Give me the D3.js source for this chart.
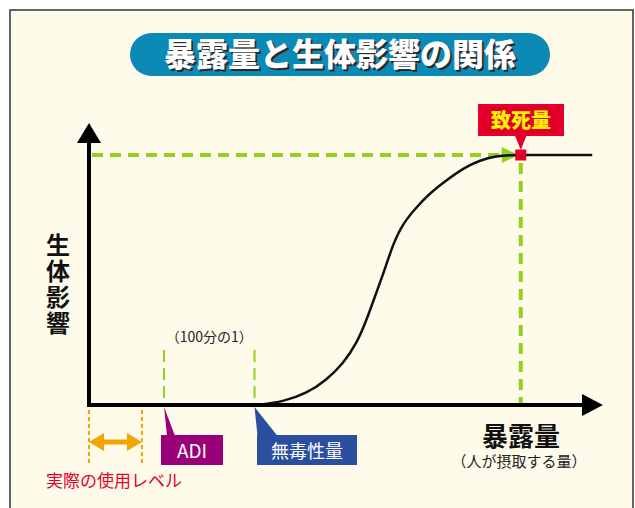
<!DOCTYPE html>
<html>
<head>
<meta charset="utf-8">
<script src="https://cdn.jsdelivr.net/npm/d3@7"></script>
<style>
  body { margin: 0; background: #fff; }
  svg { display: block; font-family: "Noto Sans CJK JP", "Noto Sans", sans-serif; }
</style>
</head>
<body>
<svg></svg>
<script>
// dose-response curve (arbitrary units)
var curveDose   = [32.6, 37.8, 42.4, 46.2, 49.5, 52.1, 54.0, 55.6, 57.3, 59.2, 61.1, 63.8, 66.3, 69.6, 72.8, 76.1, 79.3, 81.9, 84.0, 97.9];
var curveEffect = [0, 1.3, 4.7, 10, 16.7, 24.7, 34, 43.3, 52.7, 64.7, 72.7, 79.3, 84.7, 90, 94.7, 98, 99.6, 100, 100, 100];

// reference doses
var adiDose = 14.6;
var noelDose = 32.2;
var lethalDose = 84.0;
var usageRange = [0, 10.3];

var titleText = "暴露量と生体影響の関係";
var yLabel = ["生", "体", "影", "響"];
var xLabel = "暴露量";
var xSubLabel = "（人が摂取する量）";
var ratioText = "（100分の1）";
var usageText = "実際の使用レベル";
var adiText = "ADI";
var noelText = "無毒性量";
var lethalText = "致死量";

var draw = function() {
	var width = 635, height = 508;

	var svg = d3.select("svg")
		.attr("width", width)
		.attr("height", height);

	// frame
	svg.append("rect")
		.attr("x", 10).attr("y", 10)
		.attr("width", 623).attr("height", 520)
		.attr("fill", "#fefbea")
		.attr("stroke", "#333")
		.attr("stroke-width", 1.5);

	// title pill
	svg.append("rect")
		.attr("x", 130).attr("y", 33)
		.attr("width", 420).attr("height", 43)
		.attr("rx", 21.5)
		.attr("fill", "#0a8ab5");
	svg.append("text")
		.attr("x", 342).attr("y", 68)
		.attr("text-anchor", "middle")
		.attr("font-size", 32).attr("font-weight", 900)
		.attr("fill", "#2b2b2b")
		.text(titleText);
	svg.append("text")
		.attr("x", 340).attr("y", 66)
		.attr("text-anchor", "middle")
		.attr("font-size", 32).attr("font-weight", 900)
		.attr("fill", "#fff")
		.text(titleText);

	// scales
	var x = d3.scaleLinear().domain([0, 100]).range([89, 603]);
	var y = d3.scaleLinear().domain([0, 100]).range([405, 155]);

	// usage level (orange)
	usageRange.forEach(function(d) {
		svg.append("line")
			.attr("x1", x(d)).attr("x2", x(d))
			.attr("y1", 410).attr("y2", 464)
			.attr("stroke", "#f0a500")
			.attr("stroke-width", 2)
			.attr("stroke-dasharray", "4,3");
	});
	var ux0 = x(usageRange[0]), ux1 = x(usageRange[1]), uy = 442;
	svg.append("line")
		.attr("x1", ux0 + 10).attr("x2", ux1 - 10)
		.attr("y1", uy).attr("y2", uy)
		.attr("stroke", "#f0a500").attr("stroke-width", 5);
	svg.append("path")
		.attr("d", "M" + ux0 + "," + uy + "L" + (ux0 + 15) + "," + (uy - 9) + "L" + (ux0 + 15) + "," + (uy + 9) + "Z" +
			"M" + ux1 + "," + uy + "L" + (ux1 - 15) + "," + (uy - 9) + "L" + (ux1 - 15) + "," + (uy + 9) + "Z")
		.attr("fill", "#f0a500");
	svg.append("text")
		.attr("x", 114).attr("y", 487)
		.attr("text-anchor", "middle")
		.attr("font-size", 17)
		.attr("fill", "#e2002b")
		.text(usageText);

	// thin green dashed markers (ADI, NOEL)
	[adiDose, noelDose].forEach(function(d) {
		svg.append("line")
			.attr("x1", x(d)).attr("x2", x(d))
			.attr("y1", 350).attr("y2", y(0))
			.attr("stroke", "#8fd11c")
			.attr("stroke-width", 2)
			.attr("stroke-dasharray", "12,6");
	});
	svg.append("text")
		.attr("x", (x(adiDose) + x(noelDose)) / 2).attr("y", 342)
		.attr("text-anchor", "middle")
		.attr("font-size", 14)
		.attr("fill", "#222")
		.text(ratioText);

	// lethal dose guides (thick green dashes)
	svg.append("line")
		.attr("x1", x(0) + 3).attr("x2", x(lethalDose) - 16)
		.attr("y1", y(100)).attr("y2", y(100))
		.attr("stroke", "#8fd11c")
		.attr("stroke-width", 4)
		.attr("stroke-dasharray", "11,7");
	svg.append("path")
		.attr("d", "M" + (x(lethalDose) - 2) + "," + y(100) +
			"L" + (x(lethalDose) - 19) + "," + (y(100) - 8) +
			"L" + (x(lethalDose) - 19) + "," + (y(100) + 8) + "Z")
		.attr("fill", "#8fd11c");
	svg.append("line")
		.attr("x1", x(lethalDose)).attr("x2", x(lethalDose))
		.attr("y1", y(100) + 8).attr("y2", y(0))
		.attr("stroke", "#8fd11c")
		.attr("stroke-width", 4)
		.attr("stroke-dasharray", "11,7");

	// dose-response curve
	var line = d3.line()
		.x(function(d, i) { return x(curveDose[i]); })
		.y(function(d, i) { return y(curveEffect[i]); })
		.curve(d3.curveBasis);
	svg.append("path")
		.datum(curveDose)
		.attr("d", line)
		.attr("fill", "none")
		.attr("stroke", "#111")
		.attr("stroke-width", 2.5);

	// axes
	svg.append("line")
		.attr("x1", x(0)).attr("x2", x(0))
		.attr("y1", y(0) + 2).attr("y2", 140)
		.attr("stroke", "#000").attr("stroke-width", 4);
	svg.append("path")
		.attr("d", "M" + x(0) + ",123L" + (x(0) - 12) + ",143L" + (x(0) + 12) + ",143Z")
		.attr("fill", "#000");
	svg.append("line")
		.attr("x1", x(0) - 2).attr("x2", x(100) - 20)
		.attr("y1", y(0)).attr("y2", y(0))
		.attr("stroke", "#000").attr("stroke-width", 4);
	svg.append("path")
		.attr("d", "M" + x(100) + "," + y(0) + "L" + (x(100) - 21) + "," + (y(0) - 11) + "L" + (x(100) - 21) + "," + (y(0) + 11) + "Z")
		.attr("fill", "#000");

	// lethal dose marker + callout
	svg.append("rect")
		.attr("x", x(lethalDose) - 5.5).attr("y", y(100) - 5.5)
		.attr("width", 11).attr("height", 11)
		.attr("fill", "#e2002b");
	svg.append("path")
		.attr("d", "M" + (x(lethalDose) - 6) + ",135L" + x(lethalDose) + ",150L" + (x(lethalDose) + 6) + ",135Z")
		.attr("fill", "#e2002b");
	svg.append("rect")
		.attr("x", 478).attr("y", 104)
		.attr("width", 86).attr("height", 32)
		.attr("fill", "#e2002b");
	svg.append("text")
		.attr("x", 521).attr("y", 128)
		.attr("text-anchor", "middle")
		.attr("font-size", 20).attr("font-weight", 900)
		.attr("fill", "#fff200")
		.text(lethalText);

	// ADI callout
	var ax = x(adiDose);
	svg.append("path")
		.attr("d", "M" + ax + "," + (y(0) + 2) + "L" + (ax + 3) + ",436L" + (ax + 11) + ",436Z")
		.attr("fill", "#99007a");
	svg.append("rect")
		.attr("x", 161).attr("y", 435)
		.attr("width", 62).attr("height", 30)
		.attr("fill", "#99007a");
	svg.append("text")
		.attr("x", 192).attr("y", 458)
		.attr("text-anchor", "middle")
		.attr("font-size", 19)
		.attr("fill", "#fff")
		.text(adiText);

	// NOEL callout
	var nx = x(noelDose);
	svg.append("path")
		.attr("d", "M" + nx + "," + (y(0) + 2) + "L" + (nx + 3) + ",436L" + (nx + 23) + ",436Z")
		.attr("fill", "#2a4f9f");
	svg.append("rect")
		.attr("x", 257).attr("y", 435)
		.attr("width", 100).attr("height", 30)
		.attr("fill", "#2a4f9f");
	svg.append("text")
		.attr("x", 307).attr("y", 458)
		.attr("text-anchor", "middle")
		.attr("font-size", 18)
		.attr("fill", "#fff")
		.text(noelText);

	// axis titles
	svg.selectAll(".ylab")
		.data(yLabel)
		.enter()
		.append("text")
		.attr("class", "ylab")
		.attr("x", 58)
		.attr("y", function(d, i) { return 254 + i * 26; })
		.attr("text-anchor", "middle")
		.attr("font-size", 24).attr("font-weight", 700)
		.attr("fill", "#111")
		.text(function(d) { return d; });

	svg.append("text")
		.attr("x", 521).attr("y", 446)
		.attr("text-anchor", "middle")
		.attr("font-size", 26).attr("font-weight", 700)
		.attr("fill", "#111")
		.text(xLabel);
	svg.append("text")
		.attr("x", 519).attr("y", 467)
		.attr("text-anchor", "middle")
		.attr("font-size", 15)
		.attr("fill", "#222")
		.text(xSubLabel);
};

draw();
</script>
</body>
</html>
